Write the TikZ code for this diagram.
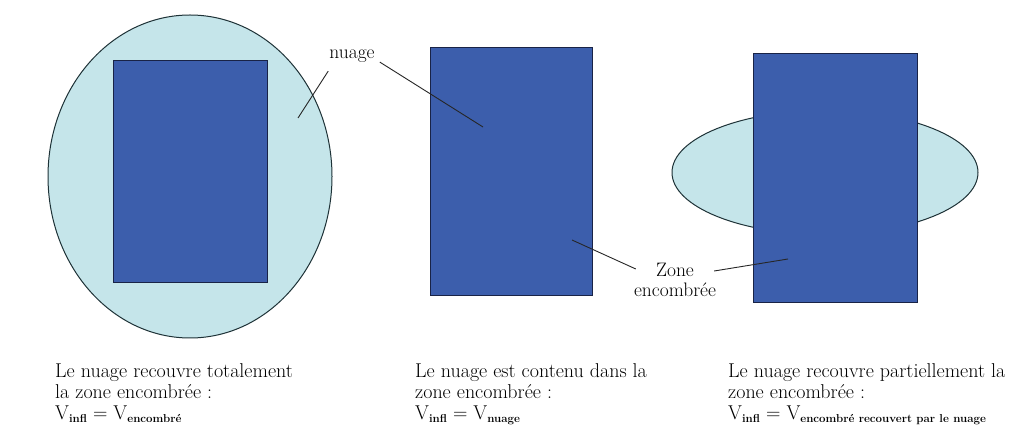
\documentclass[tikz,border=0pt]{standalone}
\usetikzlibrary{shapes.geometric}
\definecolor{zoneblue}{RGB}{60,94,172}
\definecolor{zoneedge}{RGB}{25,35,70}
\definecolor{cloudfill}{RGB}{197,229,234}
\definecolor{cloudedge}{RGB}{30,50,55}
\newcommand{\sbs}[1]{\raisebox{-3.5pt}{\fontsize{11.5}{12}\selectfont\bfseries #1}}
\begin{document}
\begin{tikzpicture}[x=1pt,y=-1pt,
  cloudshape/.style={ellipse, draw=cloudedge, fill=cloudfill, line width=1pt, inner sep=0pt},
  zonebox/.style={rectangle, draw=zoneedge, fill=zoneblue, line width=0.9pt, inner sep=0pt},
  leader/.style={draw=black!85, line width=0.9pt},
  lbl/.style={font=\fontsize{19.5}{20}\selectfont, inner sep=0pt, align=center},
  captiontext/.style={font=\fontsize{20}{21}\selectfont, align=left, anchor=north west, inner sep=0pt}]
\useasboundingbox[fill=white] (0,0) rectangle (1026,435);

% panel 1
\node[cloudshape, minimum width=284pt, minimum height=323pt] (c1) at (190,176.5) {};
\node[zonebox, minimum width=154pt, minimum height=222pt] (z1) at (190,171) {};
% panel 2
\node[zonebox, minimum width=162pt, minimum height=248pt] (z2) at (511,171) {};
% panel 3
\node[cloudshape, minimum width=306pt, minimum height=124pt] (c3) at (825,172.5) {};
\node[zonebox, minimum width=164pt, minimum height=249pt] (z3) at (835,177.5) {};

% labels
\node[lbl, anchor=base] (nuage) at (352,59) {nuage};
\node[lbl, anchor=north] (zone) at (675,263) {Zone\\[0pt]encombrée};

\coordinate (n1) at (298,118);
\coordinate (n2) at (483,127);
\coordinate (e1) at (572,240);
\coordinate (e2) at (788,259);
\draw[leader] ([shift={(-1,8)}]nuage.south west) -- (n1);
\draw[leader] ([shift={(5,12)}]nuage.north east) -- (n2);
\draw[leader] ([shift={(2,6)}]zone.north west) -- (e1);
\draw[leader] ([shift={(-2,8)}]zone.north east) -- (e2);

% captions
\node[captiontext] (t1) at (55,363) {Le nuage recouvre totalement\\la zone encombrée :\\V\sbs{infl} = V\sbs{encombré}};
\node[captiontext] (t2) at (415,363) {Le nuage est contenu dans la\\zone encombrée :\\V\sbs{infl} = V\sbs{nuage}};
\node[captiontext] (t3) at (728,363) {Le nuage recouvre partiellement la\\zone encombrée :\\V\sbs{infl} = V\sbs{encombré recouvert par le nuage}};
\end{tikzpicture}
\end{document}
